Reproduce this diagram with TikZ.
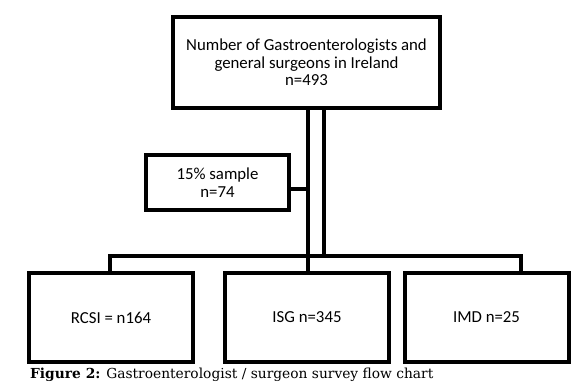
\documentclass[tikz,border=0pt]{standalone}
\usepackage{fontspec}
\setmainfont{Carlito}
\newfontfamily\capfont{DejaVu Serif}
\usetikzlibrary{positioning}
\tikzset{
    boxn/.style = {rectangle, line width=4pt, draw=black, align=center, fill=white, inner sep=0pt, font=\fontsize{16.8}{17.5}\selectfont, text=black},
    edgen/.style = {-, line width=4pt, black},
}

\begin{document}
\begin{tikzpicture}[x=1pt, y=-1pt]
  \useasboundingbox (0,0) rectangle (576,385);
  % boxes
  \node[boxn, minimum width=267pt, minimum height=91pt] (top) at (306.5,62.5)
    {Number of Gastroenterologists and\\general surgeons in Ireland\\n=493};
  \node[boxn, minimum width=143pt, minimum height=55pt] (sample) at (217.5,182.5)
    {15\% sample\\n=74};
  \node[boxn, minimum width=164pt, minimum height=89pt] (rcsi) at (111,317.5) {RCSI = n164};
  \node[boxn, minimum width=164pt, minimum height=89pt] (isg) at (307,317.5) {ISG n=345};
  \node[boxn, minimum width=164pt, minimum height=89pt] (imd) at (486.5,317.5) {IMD n=25};
  % connectors
  \coordinate (lineL) at (308,0);
  \coordinate (lineR) at (324,0);
  \coordinate (barL) at (110,256);
  \coordinate (barR) at (521,256);
  \draw[edgen] (top.south -| lineL) -- (isg.north -| lineL);
  \draw[edgen] (top.south -| lineR) -- (barR -| lineR);
  \draw[edgen] ([yshift=-6.5pt]sample.east) -- ([yshift=-6.5pt]sample.east -| lineL);
  \draw[edgen] (rcsi.north -| barL) -- (barL) -- (barR) -- (imd.north -| barR);
  % caption
  \node[anchor=base west, inner sep=0pt, font=\capfont\fontsize{13.8}{16}\selectfont] (cap) at (30,378.5)
    {\textbf{Figure 2:} Gastroenterologist / surgeon survey flow chart};
\end{tikzpicture}
\end{document}
